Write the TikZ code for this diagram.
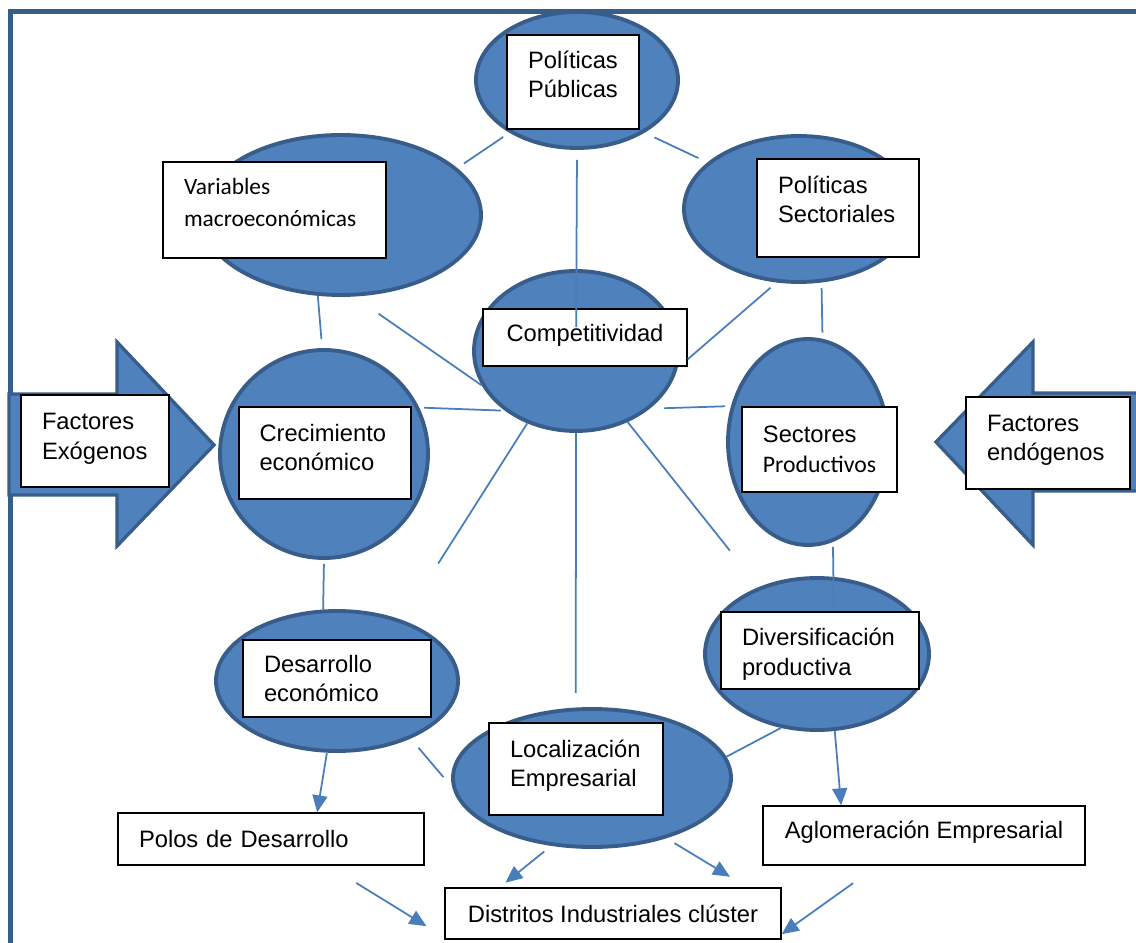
\documentclass[tikz,border=0pt]{standalone}
\usepackage{fontspec}
\setmainfont{Liberation Sans}
\newfontfamily\calibri{Carlito}
\usetikzlibrary{shapes.geometric,arrows.meta}
\definecolor{relleno}{HTML}{4F81BD}
\definecolor{borde}{HTML}{385D8A}
\definecolor{azul}{HTML}{4A7EBB}
\newcommand{\subir}[2]{\begin{tabular}{@{}l@{}}#2\\[#1]\end{tabular}}
\tikzset{
	elipse/.style={ellipse, draw=borde, fill=relleno, line width=2.2pt, inner sep=0pt},
	caja/.style={rectangle, draw=black, fill=white, line width=0.75pt, inner sep=0pt, align=left, font=\fontsize{13.5}{17}\selectfont},
	conector/.style={draw=azul, line width=1pt},
	flecha/.style={conector, -{Triangle[length=0.34cm,width=0.3cm]}},
	gruesa/.style={draw=borde, fill=relleno, line width=1.9pt, line join=miter}
}

\begin{document}
\begin{tikzpicture}
			%%%%% START %%%%%
			\useasboundingbox (0, 0) rectangle (22.72, -18.86);
			
			\draw[borde, line width=2.7pt] (0.21, -19.2) -- (0.21, -0.23) -- (23.2, -0.23);
			
			\draw[gruesa] (0.18, -7.88) -- (2.34, -7.88) -- (2.34, -6.84) -- (4.28, -8.90) -- (2.34, -10.92) -- (2.34, -9.90) -- (0.18, -9.90) -- cycle;
			\draw[gruesa] (23.2, -7.86) -- (20.66, -7.86) -- (20.66, -6.84) -- (18.72, -8.84) -- (20.66, -10.90) -- (20.66, -9.82) -- (23.2, -9.82) -- cycle;
			
			\node[elipse, minimum width=4.04cm, minimum height=2.72cm] (pp) at (11.54, -1.60) {};
			\node[elipse, minimum width=5.60cm, minimum height=3.20cm] (var) at (6.82, -4.30) {};
			\node[elipse, minimum width=4.60cm, minimum height=2.92cm] (ps) at (15.98, -4.18) {};
			\node[elipse, minimum width=4.08cm, minimum height=3.20cm] (comp) at (11.52, -7.02) {};
			\node[elipse, minimum width=4.16cm, minimum height=4.16cm] (crec) at (6.48, -9.08) {};
			\node[elipse, minimum width=3.20cm, minimum height=4.12cm] (sect) at (16.16, -8.84) {};
			\node[elipse, minimum width=4.84cm, minimum height=2.80cm] (des) at (6.74, -13.62) {};
			\node[elipse, minimum width=4.48cm, minimum height=3.04cm] (div) at (16.34, -13.08) {};
			\node[elipse, minimum width=5.56cm, minimum height=2.76cm] (loc) at (11.84, -15.56) {};
			
			\node[caja, minimum width=2.64cm, minimum height=1.88cm] (ppt) at (11.46, -1.64) {\subir{5.6pt}{Políticas\\Públicas}};
			\node[caja, minimum width=4.46cm, minimum height=1.92cm, text width=3.62cm, font=\calibri\fontsize{13.3}{18.6}\selectfont] (vart) at (5.49, -4.20) {\subir{6.8pt}{Variables\\macroeconómicas}};
			\node[caja, minimum width=3.24cm, minimum height=1.96cm, text width=2.40cm] (pst) at (16.76, -4.16) {\subir{6.8pt}{Políticas\\Sectoriales}};
			\node[caja, minimum width=4.08cm, minimum height=1.14cm] (compt) at (11.70, -6.75) {\subir{2.3pt}{Competitividad}};
			\node[caja, minimum width=3.44cm, minimum height=1.84cm, text width=2.62cm] (crect) at (6.50, -9.06) {\subir{3.4pt}{Crecimiento\\económico}};
			\node[caja, minimum width=3.10cm, minimum height=1.70cm] (sectt) at (16.39, -8.99) {Sectores\\{\calibri Productivos}};
			\node[caja, minimum width=3.76cm, minimum height=1.54cm, text width=2.92cm] (dest) at (6.74, -13.57) {Desarrollo\\económico};
			\node[caja, minimum width=3.96cm, minimum height=1.54cm, text width=3.12cm] (divt) at (16.40, -13.01) {\subir{0pt}{\rule{0pt}{16.5pt}Diversificación\\productiva}};
			\node[caja, minimum width=3.48cm, minimum height=1.84cm, text width=2.64cm] (loct) at (11.52, -15.38) {\subir{3.4pt}{Localización\\Empresarial}};
			\node[caja, minimum width=2.96cm, minimum height=1.84cm, text width=2.12cm] (exot) at (1.90, -8.82) {\subir{2.8pt}{Factores\\Exógenos}};
			\node[caja, minimum width=3.28cm, minimum height=1.84cm, text width=2.44cm] (endot) at (20.96, -8.86) {\subir{3.4pt}{Factores\\endógenos}};
			\node[caja, minimum width=6.12cm, minimum height=1.04cm, text width=5.28cm] (polost) at (5.42, -16.78) {Polos de Desarrollo};
			\node[caja, minimum width=6.44cm, minimum height=1.18cm] (aglot) at (18.48, -16.71) {\subir{3.4pt}{Aglomeración Empresarial}};
			\node[caja, minimum width=6.72cm, minimum height=1.02cm] (distt) at (12.26, -18.27) {Distritos Industriales clúster};
			
			\draw[conector, shorten <=0.16cm, shorten >=0.15cm] (var.22) -- (pp.218);
			\draw[conector, shorten <=0.2cm, shorten >=0.48cm] (pp.south) -- (comp.center);
			\draw[conector, shorten <=0.22cm, shorten >=0.2cm] (pp.322) -- (ps.153);
			\draw[conector, shorten >=0.18cm] (var.254) -- (crec.91);
			\draw[conector, shorten <=0.6cm] (var.279) -- (comp.200);
			\draw[conector, shorten <=0.1cm, shorten >=0.08cm] (crec.26) -- (comp.220);
			\draw[conector, shorten <=0.28cm, shorten >=0.12cm] (comp.322) -- (sect.155);
			\draw[conector, shorten <=0.16cm] (ps.253) -- (compt.348);
			\draw[conector, shorten <=0.11cm, shorten >=0.12cm] (ps.287) -- (sect.82);
			\draw[conector, shorten >=1.34cm] (comp.236) -- (des.43);
			\draw[conector, shorten >=0.93cm] (comp.306) -- (div.131);
			\draw[conector, shorten >=0.29cm] (comp.south) -- (loc.103);
			\draw[conector, shorten <=0.08cm] (crec.south) -- (des.101);
			\draw[conector, shorten <=0.1cm, shorten >=-0.62cm] (sect.284) -- (div.78);
			\draw[conector, shorten <=0.24cm, shorten >=0.28cm] (des.322) -- (loc.184);
			\draw[conector] (div.244) -- (loc.9);
			
			\draw[flecha] (des.262) -- (polost.30);
			\draw[flecha] (div.283) -- (aglot.160);
			\draw[flecha, shorten <=0.18cm, shorten >=0.15cm] (loc.239) -- (distt.167);
			\draw[flecha, shorten <=0.19cm, shorten >=0.41cm] (loc.321) -- (distt.11);
			\draw[flecha, shorten <=0.66cm, shorten >=0.42cm] (polost.335) -- (distt.188);
			\draw[flecha, shorten <=0.6cm] (aglot.213) -- (distt.353);
			
			%%%%% END %%%%%
\end{tikzpicture}
\end{document}
